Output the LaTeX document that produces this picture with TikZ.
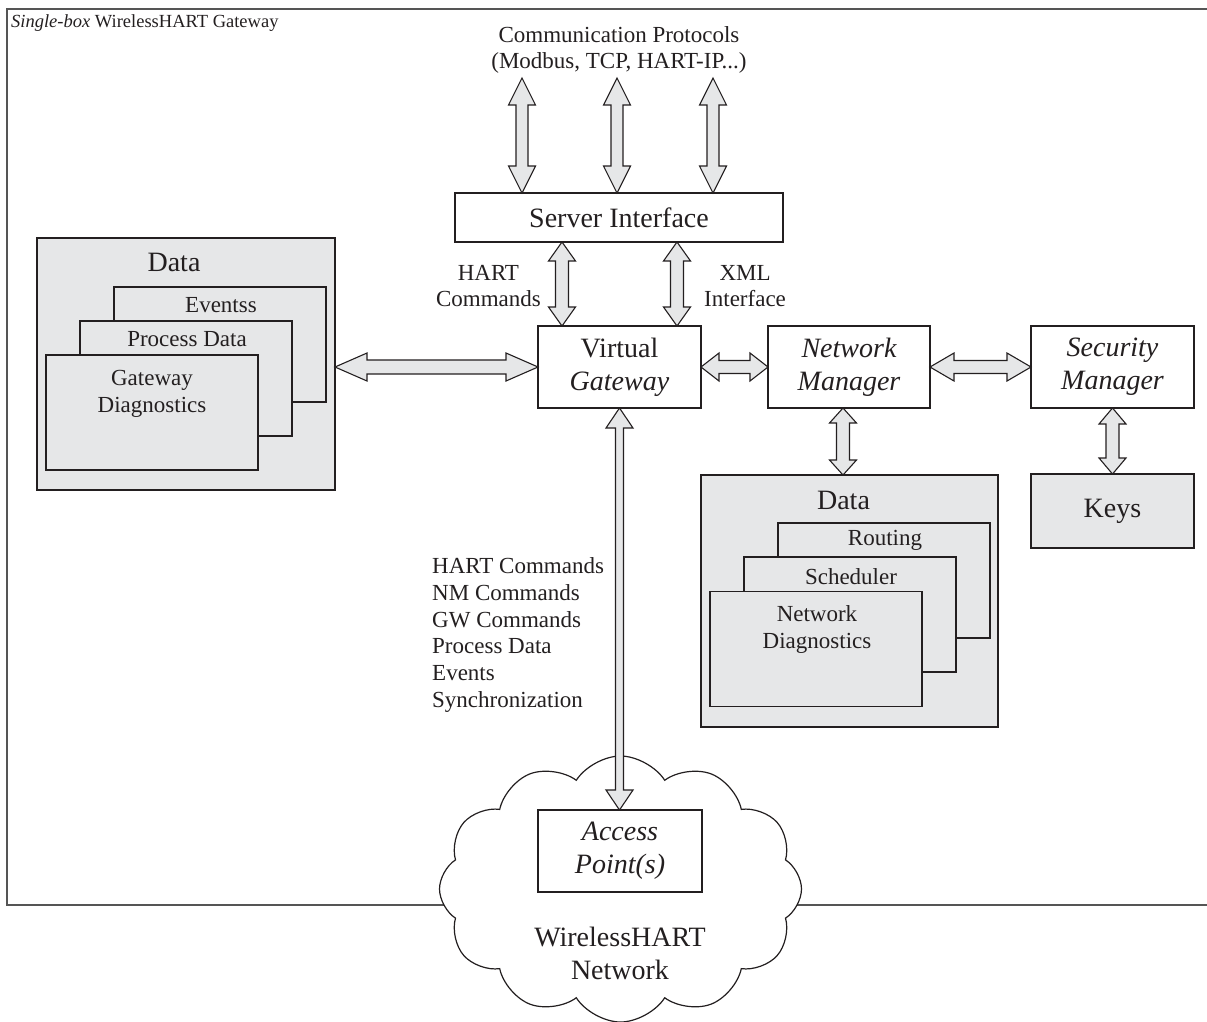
\documentclass[tikz,border=0pt]{standalone}
\usepackage{fontspec}
\setmainfont{Liberation Serif}
\usetikzlibrary{shapes.symbols,calc}
\definecolor{ink}{HTML}{231F20}
\definecolor{boxgray}{HTML}{E6E7E8}
\definecolor{framegray}{HTML}{555555}
% vertical fat double arrow: #1 upper point, #2 lower point, #3 half shaft, #4 head length
\newcommand\fatv[4]{%
  \filldraw[arr] let \p1=(#1), \p2=(#2) in
    (\x1,\y1) -- (\x1+13.5pt,\y1-#4pt) -- (\x1+#3pt,\y1-#4pt) -- (\x1+#3pt,\y2+#4pt)
    -- (\x1+13.5pt,\y2+#4pt) -- (\x1,\y2) -- (\x1-13.5pt,\y2+#4pt) -- (\x1-#3pt,\y2+#4pt)
    -- (\x1-#3pt,\y1-#4pt) -- (\x1-13.5pt,\y1-#4pt) -- cycle;}
% horizontal fat double arrow: #1 left point, #2 right point, #3 half shaft, #4 head length
\newcommand\fath[4]{%
  \filldraw[arr] let \p1=(#1), \p2=(#2) in
    (\x1,\y1) -- (\x1+#4pt,\y1+14pt) -- (\x1+#4pt,\y1+#3pt) -- (\x2-#4pt,\y1+#3pt)
    -- (\x2-#4pt,\y1+14pt) -- (\x2,\y1) -- (\x2-#4pt,\y1-14pt) -- (\x2-#4pt,\y1-#3pt)
    -- (\x1+#4pt,\y1-#3pt) -- (\x1+#4pt,\y1-14pt) -- cycle;}
\begin{document}
\begin{tikzpicture}[x=1pt,y=-1pt,line join=miter,
  big/.style={font=\fontsize{28}{33}\selectfont},
  box/.style={draw=ink,line width=1.2pt,inner sep=0pt,outer sep=0pt,fill=white,
    align=center,text=ink,big},
  graybox/.style={box,fill=boxgray},
  layer/.style={draw=ink,line width=1.1pt,fill=boxgray,minimum width=212pt,
    minimum height=115pt,inner sep=0pt,outer sep=0pt},
  arr/.style={draw=ink,line width=1.1pt,fill=boxgray},
  lbl/.style={font=\fontsize{23}{26.5}\selectfont,text=ink,align=center,inner sep=0pt},
]
\useasboundingbox (0,0) rectangle (1207,1021);
% frame of the gateway
\coordinate (ftr) at (1207,9);
\coordinate (ftl) at (7,9);
\coordinate (fbl) at (7,905);
\coordinate (fbr) at (1207,905);
\draw[line width=2pt,draw=framegray] (ftr) -- (ftl) -- (fbl) -- (fbr);
\node[anchor=base west,inner sep=0pt,text=ink,font=\fontsize{18.5}{22}\selectfont] (title)
  at (11,27) {\textit{Single-box} WirelessHART Gateway};

% cloud
\node[cloud,draw=ink,line width=1.2pt,fill=white,cloud puffs=12,cloud puff arc=115,
  cloud ignores aspect,minimum width=362pt,minimum height=266pt,inner sep=0pt] (cl)
  at (620.5,889) {};
\node[lbl,big] (wn) at (620,953.5) {WirelessHART\\Network};
\node[box,minimum width=164pt,minimum height=82pt,font=\fontsize{28}{33}\selectfont\itshape]
  (ap) at (620,851) {Access\\Point(s)};

% main boxes
\node[box,minimum width=328pt,minimum height=49pt] (si) at (619,217.5) {Server Interface};
\node[box,minimum width=163pt,minimum height=82pt] (vg) at (619.5,367) {Virtual\\\textit{Gateway}};
\node[box,minimum width=162pt,minimum height=82pt,font=\fontsize{28}{33}\selectfont\itshape]
  (nm) at (849,367) {Network\\Manager};
\node[box,minimum width=163pt,minimum height=82pt,font=\fontsize{28}{33}\selectfont\itshape]
  (sm) at (1112.5,367) {Security\\Manager};
\node[graybox,minimum width=163pt,minimum height=74pt] (keys) at (1112.5,511) {Keys};

% left data store
\node[graybox,minimum width=298pt,minimum height=252pt] (d1) at (186,364) {};
\node[lbl,big] (d1t) at ($(d1.north)+(-12,24)$) {Data};
\node[layer] (ev) at (220,344.5) {};
\node[lbl] (evt) at ($(ev.north)+(1,18)$) {Eventss};
\node[layer] (pd) at (186,378.5) {};
\node[lbl] (pdt) at ($(pd.north)+(1,18)$) {Process Data};
\node[layer] (gd) at (152,412.5) {};
\node[lbl] (gdt) at ($(gd.north)+(0,39)$) {Gateway\\Diagnostics};

% right data store
\node[graybox,minimum width=297pt,minimum height=252pt] (d2) at (849.5,601) {};
\node[lbl,big] (d2t) at ($(d2.north)+(-6,25)$) {Data};
\node[layer] (ro) at (884,580.5) {};
\node[lbl] (rot) at ($(ro.north)+(1,17)$) {Routing};
\node[layer] (sc) at (850,614.5) {};
\node[lbl] (sct) at ($(sc.north)+(1,20)$) {Scheduler};
\node[layer] (nd) at (816,649) {};
\node[lbl] (ndt) at ($(nd.north)+(1,38)$) {Network\\Diagnostics};

% labels
\node[lbl] (cp) at (619,50) {Communication Protocols\\(Modbus, TCP, HART-IP...)};
\node[lbl,anchor=east] (hc) at (541,286) {HART\\Commands};
\node[lbl,anchor=west] (xi) at (704,286) {XML\\Interface};
\node[lbl,anchor=west,align=left,font=\fontsize{23}{26.8}\selectfont] (lst) at (432,635)
  {HART Commands\\NM Commands\\GW Commands\\Process Data\\Events\\Synchronization};

% arrows
\coordinate (c1) at (522,78);
\coordinate (c2) at (617,78);
\coordinate (c3) at (713,78);
\fatv{c1}{c1 |- si.north}{6}{27}
\fatv{c2}{c2 |- si.north}{6}{27}
\fatv{c3}{c3 |- si.north}{6}{27}
\fatv{$(si.south)+(-57,0)$}{$(vg.north)+(-57,0)$}{6.5}{19}
\fatv{$(si.south)+(58,0)$}{$(vg.north)+(58,0)$}{6.5}{19}
\fatv{vg.south}{ap.north}{4}{20}
\fatv{$(nm.south)+(-6,0)$}{$(d2.north)+(-6,0)$}{6.5}{15}
\fatv{sm.south}{keys.north}{6.5}{16}
\fath{d1.east |- vg.west}{vg.west}{7}{32}
\fath{vg.east}{nm.west}{6.5}{18}
\fath{nm.east}{sm.west}{6.5}{24}
\end{tikzpicture}
\end{document}
